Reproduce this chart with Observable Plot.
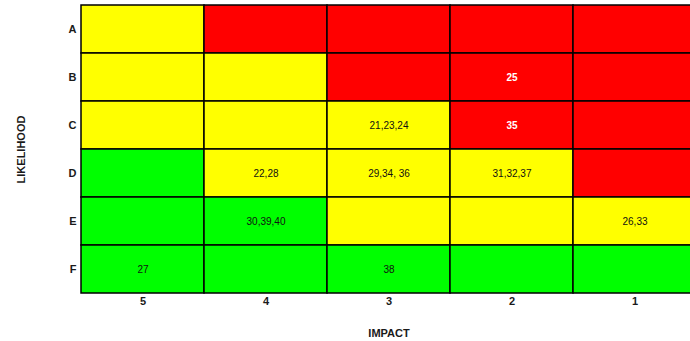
<!DOCTYPE html>
<html><head><meta charset="utf-8">
<script src="https://cdn.jsdelivr.net/npm/d3@7"></script>
<script src="https://cdn.jsdelivr.net/npm/@observablehq/plot@0.6"></script>
<style>body{margin:0;background:#fff;overflow:hidden}</style>
</head><body><div id="chart"></div>
<script>
const impact = ["5", "4", "3", "2", "1"];
const likelihood = ["A", "B", "C", "D", "E", "F"];
const levels = ["Low", "Medium", "High"];
const levelColors = ["#00ff00", "#ffff00", "#ff0000"];
const riskLevel = [
  ["Medium", "High", "High", "High", "High"],
  ["Medium", "Medium", "High", "High", "High"],
  ["Medium", "Medium", "Medium", "High", "High"],
  ["Low", "Medium", "Medium", "Medium", "High"],
  ["Low", "Low", "Medium", "Medium", "Medium"],
  ["Low", "Low", "Low", "Low", "Low"]
];
const riskIds = [
  ["", "", "", "", ""],
  ["", "", "", "25", ""],
  ["", "", "21,23,24", "35", ""],
  ["", "22,28", "29,34, 36", "31,32,37", ""],
  ["", "30,39,40", "", "", "26,33"],
  ["27", "", "38", "", ""]
];

const cells = likelihood.flatMap((l, i) => impact.map((m, j) => ({
  likelihood: l, impact: m, level: riskLevel[i][j], ids: riskIds[i][j]
})));
const labelled = cells.filter(d => d.ids);

const chart = Plot.plot({
  width: 690, height: 341,
  marginTop: 5, marginLeft: 81, marginRight: -6, marginBottom: 48,
  style: {fontFamily: "'Liberation Sans', Arial, sans-serif", fontSize: "11px", color: "#1a1a1a", background: "#fff"},
  x: {domain: impact, padding: 0},
  y: {domain: likelihood, padding: 0},
  color: {domain: levels, range: levelColors},
  marks: [
    Plot.cell(cells, {x: "impact", y: "likelihood", fill: "level", stroke: "#000", strokeWidth: 1.5}),
    Plot.text(labelled.filter(d => d.level !== "High"), {x: "impact", y: "likelihood", text: "ids", fill: "#111", fontSize: 10}),
    Plot.text(labelled.filter(d => d.level === "High"), {x: "impact", y: "likelihood", text: "ids", fill: "#fff", fontSize: 10, fontWeight: "bold"}),
    Plot.axisX({tickSize: 0, tickPadding: 4, fontWeight: "bold", label: "IMPACT", labelAnchor: "center", labelOffset: 43}),
    Plot.axisY({tickSize: 0, tickPadding: 5, fontWeight: "bold", label: "LIKELIHOOD", labelAnchor: "center", labelOffset: 64})
  ]
});
document.getElementById("chart").appendChild(chart);
</script>
</body></html>
